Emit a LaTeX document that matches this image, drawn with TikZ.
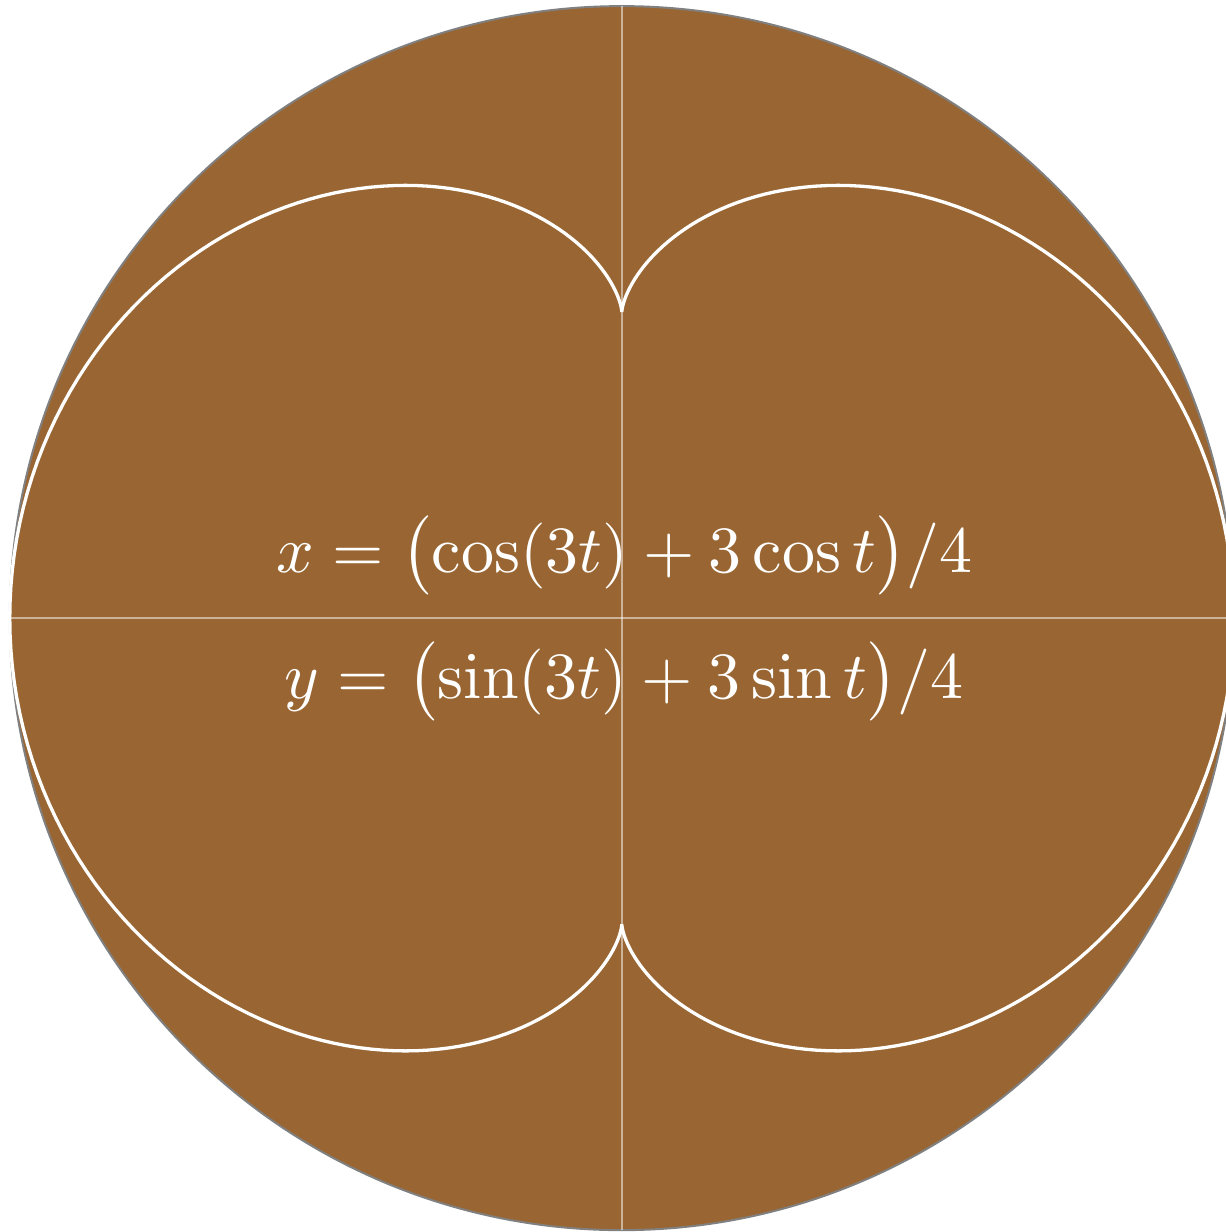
\documentclass[tikz,border=0pt]{standalone}
\usepackage{amsmath,amssymb}
\usepackage{tikz}
\definecolor{nephbrown}{RGB}{153,102,51}

\begin{document}
\begin{tikzpicture}[
  x=3.26cm, y=3.26cm,
  disc/.style={fill=nephbrown, draw=gray, line width=0.3pt},
  axis/.style={draw=white, draw opacity=0.5, line width=0.3pt},
  curve/.style={draw=white, line width=0.5pt},
  eqn/.style={text=white, anchor=base, inner sep=0pt}
]
\useasboundingbox (-1.016,-1.003) rectangle (0.987,1.010);
\clip (-1.016,-1.003) rectangle (0.987,1.010);
\path[disc] (0,0) circle (1);
\coordinate (west) at (-1,0);
\coordinate (east) at (1,0);
\coordinate (south) at (0,-1);
\coordinate (north) at (0,1);
\draw[axis] (west) -- (east);
\draw[axis] (south) -- (north);
% nephroid
\draw[curve] plot[domain=0:360, samples=361]
  ({(cos(3*\x)+3*cos(\x))/4}, {(sin(3*\x)+3*sin(\x))/4}) -- cycle;
\node[eqn] (xeq) at (0.004,0.075) {$x = \bigl(\cos(3t) + 3\cos t\bigr)/4$};
\node[eqn] (yeq) at (0.004,-0.131) {$y = \bigl(\sin(3t) + 3\sin t\bigr)/4$};
\end{tikzpicture}
\end{document}
